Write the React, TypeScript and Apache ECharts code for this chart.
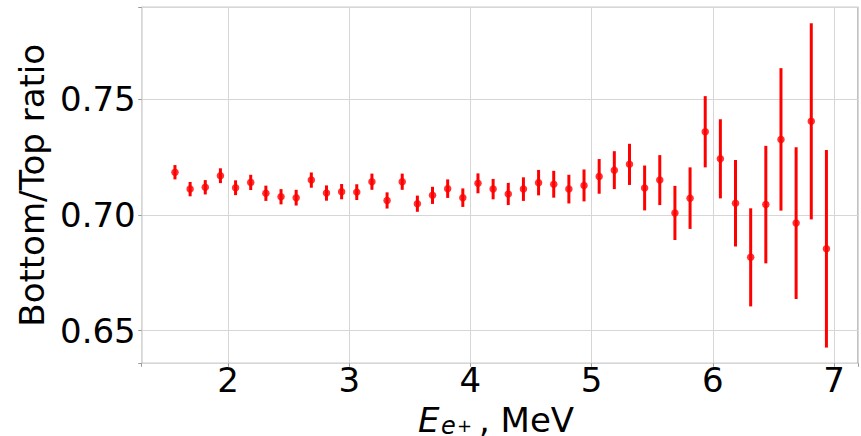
import React, { useEffect, useRef } from 'react';
import * as echarts from 'echarts';

// Positron energy bin centres, MeV
const energies = [
  1.5625, 1.6875, 1.8125, 1.9375, 2.0625, 2.1875, 2.3125, 2.4375, 2.5625, 2.6875, 2.8125,
  2.9375, 3.0625, 3.1875, 3.3125, 3.4375, 3.5625, 3.6875, 3.8125, 3.9375, 4.0625, 4.1875,
  4.3125, 4.4375, 4.5625, 4.6875, 4.8125, 4.9375, 5.0625, 5.1875, 5.3125, 5.4375, 5.5625,
  5.6875, 5.8125, 5.9375, 6.0625, 6.1875, 6.3125, 6.4375, 6.5625, 6.6875, 6.8125, 6.9375,
];

// Bottom/Top ratio
const ratios = [
  0.7185, 0.7112, 0.712, 0.717, 0.7118, 0.7141, 0.7094, 0.7079, 0.7075, 0.7151, 0.7095,
  0.7101, 0.7099, 0.7144, 0.7063, 0.7144, 0.7049, 0.7085, 0.7114, 0.7075, 0.7137, 0.7112,
  0.7091, 0.7112, 0.714, 0.7133, 0.7112, 0.7128, 0.7167, 0.7194, 0.7219, 0.7117, 0.7151,
  0.7009, 0.7073, 0.736, 0.7243, 0.7051, 0.6817, 0.7045, 0.7327, 0.6965, 0.7405, 0.6854,
];

// Symmetric errors
const errors = [
  0.0031, 0.0031, 0.0031, 0.0032, 0.0032, 0.0033, 0.0033, 0.0033, 0.0034, 0.0033, 0.0033,
  0.0033, 0.0034, 0.0035, 0.0035, 0.0035, 0.0035, 0.0037, 0.004, 0.004, 0.0043, 0.0044,
  0.0048, 0.0051, 0.0055, 0.0058, 0.0062, 0.0069, 0.0075, 0.0082, 0.0089, 0.0097, 0.0108,
  0.0117, 0.0133, 0.0154, 0.0171, 0.0187, 0.0212, 0.0254, 0.0308, 0.0328, 0.0424, 0.0427,
];

const xTickLabels = [2, 3, 4, 5, 6, 7];
const yTickLabels = [0.65, 0.7, 0.75];

const FONT = 'DejaVu Sans';

export default function App() {
  const ref = useRef<HTMLDivElement>(null);

  useEffect(() => {
    document.body.style.margin = '0';
    const chart = echarts.init(ref.current!, null, { renderer: 'svg' });
    const xMin = 1.288;
    const xMax = 7.198;
    const yMin = 0.6359;
    const yMax = 0.7898;

    chart.setOption({
      animation: false,
      backgroundColor: '#ffffff',
      grid: {
        left: 141.7,
        right: 3,
        top: 7.3,
        bottom: 72.7,
        show: true,
        borderColor: '#9a9a9a',
        borderWidth: 1.2,
        backgroundColor: 'transparent',
      },
      xAxis: {
        type: 'value',
        min: xMin,
        max: xMax,
        minInterval: 1,
        maxInterval: 1,
        splitNumber: 6,
        axisLine: { show: false },
        axisTick: { show: true, length: 3.5, lineStyle: { color: '#9a9a9a', width: 1 } },
        axisLabel: {
          fontSize: 34,
          fontFamily: FONT,
          color: '#000',
          margin: 0,
          formatter: (v: number) =>
            xTickLabels.some((t) => Math.abs(t - v) < 1e-6) ? String(Math.round(v)) : '',
        },
        splitLine: { show: true, lineStyle: { color: '#d6d6d6', width: 1 } },
      },
      yAxis: {
        type: 'value',
        min: yMin,
        max: yMax,
        minInterval: 0.05,
        maxInterval: 0.05,
        splitNumber: 3,
        axisLine: { show: false },
        axisTick: { show: true, length: 3.5, lineStyle: { color: '#9a9a9a', width: 1 } },
        axisLabel: {
          fontSize: 34,
          fontFamily: FONT,
          color: '#000',
          margin: 6,
          formatter: (v: number) =>
            yTickLabels.some((t) => Math.abs(t - v) < 1e-6) ? v.toFixed(2) : '',
        },
        splitLine: { show: true, lineStyle: { color: '#d6d6d6', width: 1 } },
        name: 'Bottom/Top ratio',
        nameLocation: 'middle',
        nameGap: 82,
        nameTextStyle: { fontSize: 34, fontFamily: FONT, color: '#000' },
      },
      graphic: [
        {
          type: 'text',
          x: 418,
          y: 419.5,
          style: { text: 'E', font: `italic 34px "${FONT}"`, fill: '#000', verticalAlign: 'middle', align: 'left' },
        },
        {
          type: 'text',
          x: 441,
          y: 425.5,
          style: { text: 'e', font: `italic 24px "${FONT}"`, fill: '#000', verticalAlign: 'middle', align: 'left' },
        },
        {
          type: 'text',
          x: 464.5,
          y: 425,
          style: { text: '+', font: `18px "${FONT}"`, fill: '#000', verticalAlign: 'middle', align: 'center' },
        },
        {
          type: 'text',
          x: 479,
          y: 419.5,
          style: { text: ', MeV', font: `34px "${FONT}"`, fill: '#000', verticalAlign: 'middle', align: 'left' },
        },
      ],
      series: [
        {
          type: 'custom',
          data: energies.map((x, i) => [x, ratios[i], errors[i]]),
          encode: { x: 0, y: 1 },
          z: 2,
          renderItem: (params: any, api: any) => {
            const x = api.value(0);
            const y = api.value(1);
            const e = api.value(2);
            const p1 = api.coord([x, y - e]);
            const p2 = api.coord([x, y + e]);
            return {
              type: 'line',
              shape: { x1: p1[0], y1: p1[1], x2: p2[0], y2: p2[1] },
              style: { stroke: '#ff0000', lineWidth: 3 },
            };
          },
        },
        {
          type: 'scatter',
          data: energies.map((x, i) => [x, ratios[i]]),
          symbol: 'circle',
          symbolSize: 7.5,
          itemStyle: { color: '#ff0000' },
          z: 3,
        },
      ],
    });

    return () => {
      chart.dispose();
    };
  }, []);

  return <div ref={ref} style={{ width: 861, height: 436 }} />;
}
